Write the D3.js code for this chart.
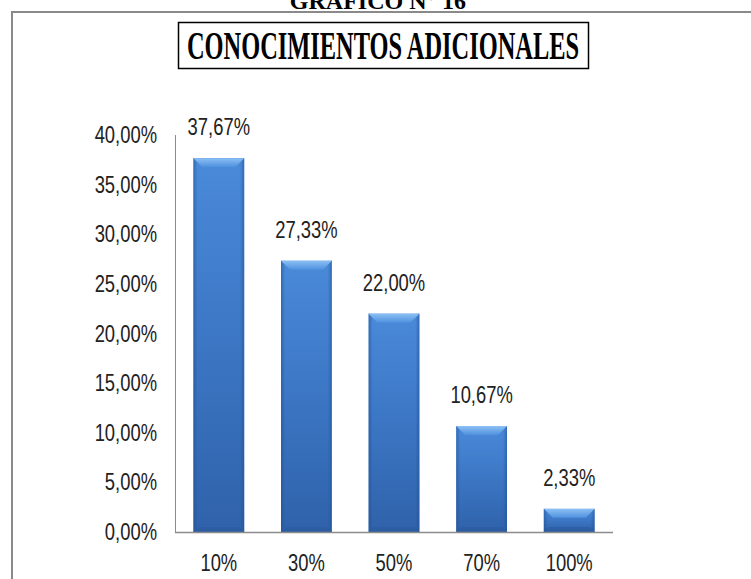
<!DOCTYPE html>
<html>
<head>
<meta charset="utf-8">
<script src="https://cdn.jsdelivr.net/npm/d3@7"></script>
<style>
  body { margin: 0; background: #fff; }
  .tick-label, .bar-label, .cat-label {
    font-family: 'Liberation Sans', Arial, sans-serif;
    fill: #222;
  }
</style>
</head>
<body>
<div id="chart"></div>
<script>
// data
const categories = ['10%', '30%', '50%', '70%', '100%'];
const values = [0.3767, 0.2733, 0.22, 0.1067, 0.0233];
const yTicks = [0, 0.05, 0.10, 0.15, 0.20, 0.25, 0.30, 0.35, 0.40];
const chartTitle = 'CONOCIMIENTOS ADICIONALES';
const pageTitle = 'GRAFICO N° 16';

const width = 751, height = 579;
const fmt = v => (v * 100).toFixed(2).replace('.', ',') + '%';
// the chart font is narrow, so squeeze the glyphs sideways
const squeeze = 0.8;

const svg = d3.select('#chart').append('svg')
  .attr('width', width)
  .attr('height', height);

// gradients for the bevelled bars
const defs = svg.append('defs');
const bodyGrad = defs.append('linearGradient')
  .attr('id', 'barBody')
  .attr('x1', 0).attr('y1', 0).attr('x2', 0).attr('y2', 1);
bodyGrad.append('stop').attr('offset', '0%').attr('stop-color', '#4a8ad9');
bodyGrad.append('stop').attr('offset', '45%').attr('stop-color', '#3d78c6');
bodyGrad.append('stop').attr('offset', '100%').attr('stop-color', '#2f62aa');

const sideGrad = defs.append('linearGradient')
  .attr('id', 'barSide')
  .attr('x1', 0).attr('y1', 0).attr('x2', 1).attr('y2', 0);
sideGrad.append('stop').attr('offset', '0%').attr('stop-color', '#1f4f94').attr('stop-opacity', 0.55);
sideGrad.append('stop').attr('offset', '8%').attr('stop-color', '#1f4f94').attr('stop-opacity', 0);
sideGrad.append('stop').attr('offset', '92%').attr('stop-color', '#1f4f94').attr('stop-opacity', 0);
sideGrad.append('stop').attr('offset', '100%').attr('stop-color', '#1f4f94').attr('stop-opacity', 0.55);

const topGrad = defs.append('linearGradient')
  .attr('id', 'barTop')
  .attr('x1', 0).attr('y1', 0).attr('x2', 0).attr('y2', 1);
topGrad.append('stop').attr('offset', '0%').attr('stop-color', '#8cc0f5');
topGrad.append('stop').attr('offset', '100%').attr('stop-color', '#4f90de');

// page frame and headings
svg.append('text')
  .attr('x', 378)
  .attr('y', 9)
  .attr('text-anchor', 'middle')
  .style('font-family', "'Liberation Serif', 'Times New Roman', serif")
  .style('font-weight', 'bold')
  .style('font-size', '24px')
  .text(pageTitle);

svg.append('path')
  .attr('d', `M12,${height} L12,12 L${width},12`)
  .attr('fill', 'none')
  .attr('stroke', '#8a8a8a')
  .attr('stroke-width', 2);

svg.append('rect')
  .attr('x', 178.5).attr('y', 22.5)
  .attr('width', 410).attr('height', 46)
  .attr('fill', '#fff')
  .attr('stroke', '#000')
  .attr('stroke-width', 1.5);

svg.append('text')
  .attr('x', 383)
  .attr('y', 59)
  .attr('text-anchor', 'middle')
  .attr('textLength', 392)
  .attr('lengthAdjust', 'spacingAndGlyphs')
  .style('font-family', "'Liberation Serif', 'Times New Roman', serif")
  .style('font-weight', 'bold')
  .style('font-size', '40px')
  .text(chartTitle);

// scales
const x = d3.scaleBand()
  .domain(categories)
  .range([175, 613])
  .paddingInner(0.42)
  .paddingOuter(0.21);

const y = d3.scaleLinear()
  .domain([0, 0.40])
  .range([532, 135]);

// y tick labels
svg.append('g')
  .selectAll('text')
  .data(yTicks)
  .join('text')
  .attr('class', 'tick-label')
  .attr('transform', d => `translate(157,${y(d)}) scale(${squeeze},1)`)
  .attr('dy', '0.35em')
  .attr('text-anchor', 'end')
  .style('font-size', '23px')
  .text(fmt);

// bars
const bars = svg.append('g')
  .selectAll('g.bar')
  .data(values)
  .join('g')
  .attr('class', 'bar')
  .attr('transform', (d, i) => `translate(${x(categories[i])},0)`);

const bw = x.bandwidth();
const bevel = 9;

bars.append('rect')
  .attr('x', 0)
  .attr('y', d => y(d))
  .attr('width', bw)
  .attr('height', d => y(0) - y(d))
  .attr('fill', 'url(#barBody)');

bars.append('rect')
  .attr('x', 0)
  .attr('y', d => y(d))
  .attr('width', bw)
  .attr('height', d => y(0) - y(d))
  .attr('fill', 'url(#barSide)');

bars.append('path')
  .attr('d', d => {
    const t = y(d);
    const b = Math.min(bevel, (y(0) - t) / 2);
    return `M0,${t} L${bw},${t} L${bw - b},${t + b} L${b},${t + b} Z`;
  })
  .attr('fill', 'url(#barTop)');

// bottom bevel shade
bars.append('path')
  .attr('d', d => {
    const t = y(d);
    const b = Math.min(5, (y(0) - t) / 3);
    return `M0,${y(0)} L${bw},${y(0)} L${bw - b},${y(0) - b} L${b},${y(0) - b} Z`;
  })
  .attr('fill', '#2b5a9c')
  .attr('opacity', 0.6);

// value labels
bars.append('text')
  .attr('class', 'bar-label')
  .attr('transform', d => `translate(${bw / 2},${y(d) - 31}) scale(${squeeze},1)`)
  .attr('dy', '0.35em')
  .attr('text-anchor', 'middle')
  .style('font-size', '23px')
  .text(fmt);

// axes lines
svg.append('line')
  .attr('x1', 175.5).attr('x2', 175.5)
  .attr('y1', y(0.40)).attr('y2', y(0))
  .attr('stroke', '#8c8c8c')
  .attr('stroke-width', 1);

svg.append('line')
  .attr('x1', 175).attr('x2', 613)
  .attr('y1', y(0) + 0.5).attr('y2', y(0) + 0.5)
  .attr('stroke', '#8c8c8c')
  .attr('stroke-width', 1.5);

// category labels
svg.append('g')
  .selectAll('text')
  .data(categories)
  .join('text')
  .attr('class', 'cat-label')
  .attr('transform', d => `translate(${x(d) + bw / 2},563) scale(${squeeze},1)`)
  .attr('dy', '0.35em')
  .attr('text-anchor', 'middle')
  .style('font-size', '23px')
  .text(d => d);
</script>
</body>
</html>
